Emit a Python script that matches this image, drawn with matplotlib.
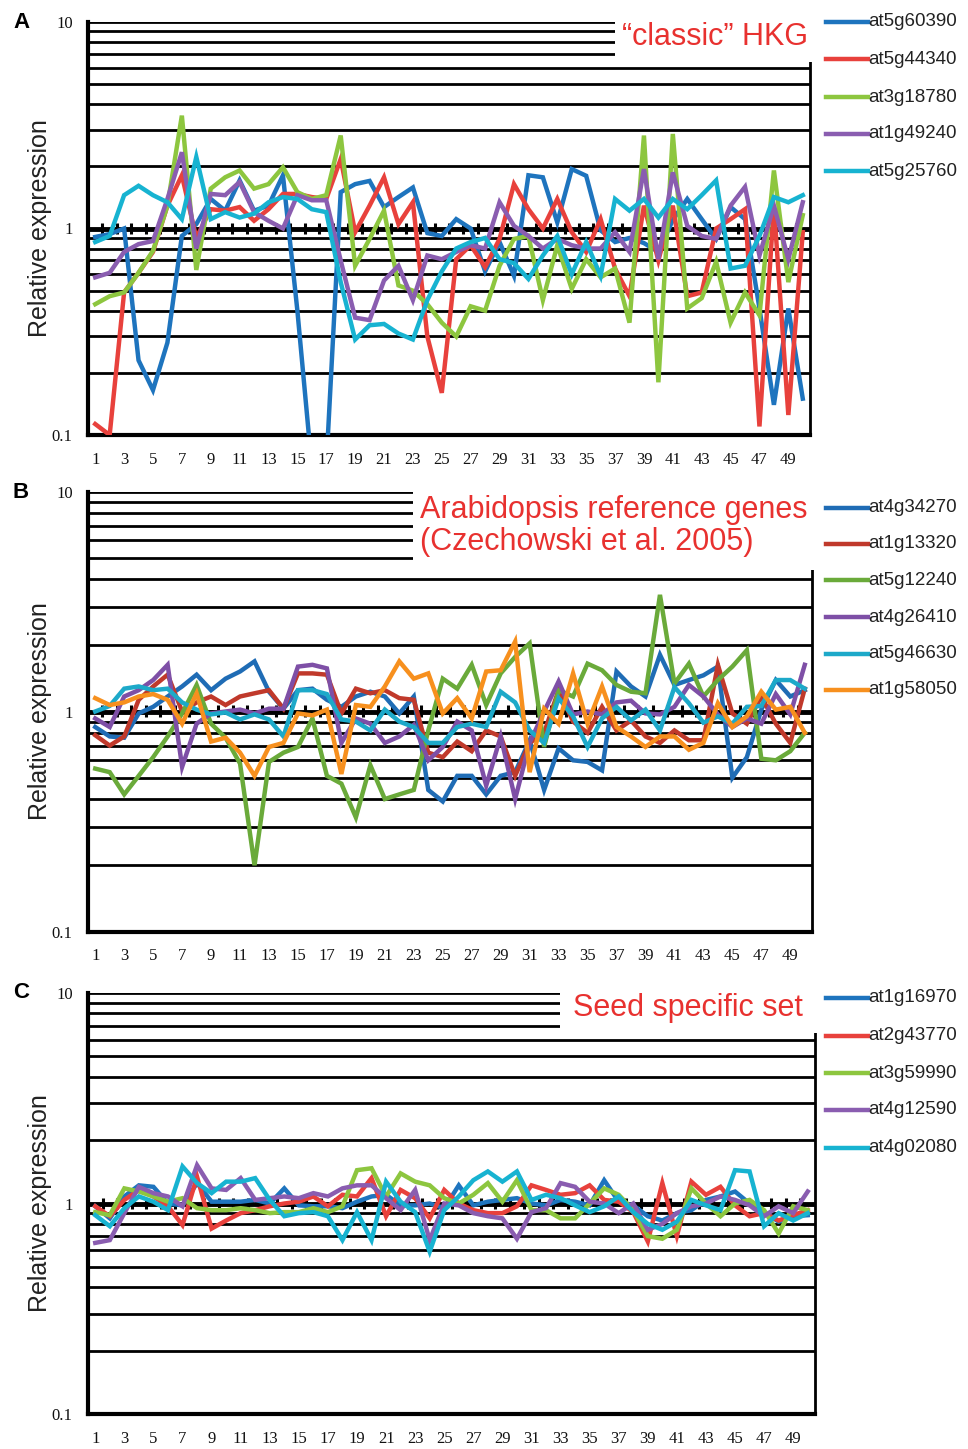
import numpy as np
import matplotlib
matplotlib.use("Agg")
import matplotlib.pyplot as plt
from matplotlib.patches import Rectangle
from matplotlib.lines import Line2D

# sample positions 1..50
samples = list(range(1, 51))
x_labels = [str(i) for i in range(1, 50, 2)]

# Panel A - "classic" HKG
genes_a = ["at5g60390", "at5g44340", "at3g18780", "at1g49240", "at5g25760"]
colors_a = ["#1E74BE", "#E8413C", "#8DC63F", "#8A5DB0", "#17B3D1"]
at5g60390 = [0.91, 0.94, 1.0, 0.23, 0.165, 0.28, 0.92, 1.05, 1.39, 1.22, 1.71, 1.22, 1.29, 1.81, 0.4,
             0.07, 0.07, 1.5, 1.64, 1.7, 1.27, 1.42, 1.58, 0.95, 0.92, 1.11, 1.0, 0.62, 0.86, 0.59,
             1.81, 1.77, 1.07, 1.94, 1.8, 0.98, 0.86, 0.9, 0.85, 0.77, 1.1, 1.39, 1.11, 0.89, 1.27,
             1.11, 0.41, 0.14, 0.41, 0.15]
at5g44340 = [0.113, 0.10, 0.49, 0.61, 0.77, 1.29, 1.81, 0.9, 1.24, 1.22, 1.27, 1.09, 1.24, 1.47, 1.47,
             1.42, 1.39, 2.17, 0.96, 1.29, 1.77, 1.05, 1.34, 0.30, 0.16, 0.71, 0.83, 0.65, 0.89, 1.64,
             1.24, 1.0, 1.39, 0.96, 0.77, 1.11, 0.64, 0.47, 1.29, 0.7, 1.29, 0.47, 0.49, 1.0, 1.11,
             1.24, 0.11, 1.29, 0.125, 0.96]
at3g18780 = [0.43, 0.47, 0.49, 0.61, 0.78, 1.29, 3.52, 0.63, 1.56, 1.77, 1.91, 1.56, 1.64, 1.98, 1.50,
             1.39, 1.45, 2.82, 0.66, 0.89, 1.22, 0.53, 0.50, 0.43, 0.35, 0.30, 0.42, 0.40, 0.66, 0.89,
             0.92, 0.45, 0.83, 0.51, 0.71, 0.58, 0.64, 0.35, 2.82, 0.18, 2.87, 0.41, 0.46, 0.69, 0.35,
             0.49, 0.38, 1.91, 0.55, 1.16]
at1g49240 = [0.58, 0.61, 0.77, 0.84, 0.87, 1.39, 2.34, 0.80, 1.47, 1.45, 1.68, 1.2, 1.09, 1.0, 1.45,
             1.37, 1.37, 0.70, 0.37, 0.36, 0.56, 0.66, 0.45, 0.74, 0.71, 0.77, 0.83, 0.80, 1.34, 1.03,
             0.92, 0.80, 0.89, 0.83, 0.80, 0.80, 0.96, 0.77, 1.94, 0.71, 1.87, 1.03, 0.92, 0.89, 1.29,
             1.59, 0.74, 1.29, 0.71, 1.34]
at5g25760 = [0.86, 0.92, 1.45, 1.61, 1.45, 1.34, 1.11, 2.22, 1.11, 1.2, 1.13, 1.18, 1.34, 1.42, 1.39,
             1.24, 1.2, 0.55, 0.29, 0.34, 0.345, 0.31, 0.29, 0.45, 0.62, 0.80, 0.86, 0.90, 0.71, 0.68,
             0.57, 0.74, 0.92, 0.60, 0.86, 0.59, 1.39, 1.22, 1.39, 1.13, 1.39, 1.24, 1.45, 1.71, 0.64,
             0.66, 0.92, 1.42, 1.34, 1.45]

# Panel B - Arabidopsis reference genes
genes_b = ["at4g34270", "at1g13320", "at5g12240", "at4g26410", "at5g46630", "at1g58050"]
colors_b = ["#1F6CB5", "#C0392B", "#6AAA3A", "#7E4FA6", "#1DA9C9", "#F7901E"]
at4g34270 = [0.85, 0.77, 0.76, 0.98, 1.05, 1.17, 1.30, 1.47, 1.25, 1.41, 1.52, 1.69, 1.23, 1.03, 1.25,
             1.27, 1.13, 1.05, 1.17, 1.23, 1.17, 0.98, 1.17, 0.44, 0.39, 0.51, 0.51, 0.42, 0.51, 0.53,
             0.74, 0.44, 0.68, 0.60, 0.59, 0.54, 1.52, 1.30, 1.17, 1.81, 1.32, 1.39, 1.46, 1.6, 0.50,
             0.62, 1.02, 1.39, 1.17, 1.25]
at1g13320 = [0.78, 0.70, 0.77, 1.13, 1.30, 1.47, 1.0, 1.1, 1.17, 1.07, 1.17, 1.21, 1.25, 1.03, 1.49,
             1.49, 1.47, 0.98, 1.27, 1.21, 1.25, 1.15, 1.13, 0.65, 0.62, 0.73, 0.66, 0.82, 0.77, 0.51,
             0.72, 0.8, 1.25, 0.9, 0.80, 1.05, 0.82, 0.91, 0.77, 0.72, 0.82, 0.74, 0.74, 1.63, 0.98,
             0.88, 1.17, 0.88, 0.72, 1.27]
at5g12240 = [0.55, 0.53, 0.42, 0.51, 0.62, 0.77, 0.98, 1.32, 0.88, 0.76, 0.58, 0.20, 0.59, 0.65, 0.69,
             0.93, 0.51, 0.47, 0.33, 0.57, 0.40, 0.42, 0.44, 0.82, 1.41, 1.27, 1.63, 1.07, 1.49, 1.77,
             2.04, 0.69, 1.25, 1.17, 1.65, 1.54, 1.32, 1.23, 1.21, 3.39, 1.34, 1.65, 1.17, 1.39, 1.6,
             1.9, 0.61, 0.60, 0.66, 0.80]
at4g26410 = [0.93, 0.85, 1.17, 1.25, 1.39, 1.63, 0.56, 0.88, 0.98, 1.0, 1.02, 0.98, 1.03, 1.03, 1.6,
             1.63, 1.57, 0.72, 0.93, 0.88, 0.72, 0.77, 0.87, 0.60, 0.69, 0.90, 0.82, 0.46, 0.77, 0.40,
             0.72, 1.0, 1.37, 0.97, 1.0, 0.97, 1.1, 1.12, 0.98, 0.97, 1.05, 1.32, 1.17, 0.97, 0.85,
             0.93, 0.88, 1.2, 0.97, 1.63]
at5g46630 = [1.0, 1.06, 1.27, 1.3, 1.25, 1.27, 1.1, 1.02, 0.97, 0.99, 0.92, 0.97, 0.92, 0.77, 1.25,
             1.25, 1.2, 0.92, 0.90, 0.82, 1.02, 0.9, 0.85, 0.72, 0.72, 0.85, 0.88, 0.85, 1.23, 1.1,
             0.82, 0.72, 1.15, 0.95, 0.69, 0.93, 1.05, 0.91, 1.02, 0.82, 1.29, 1.09, 0.89, 0.95, 0.88,
             1.05, 1.06, 1.39, 1.39, 1.27]
at1g58050 = [1.15, 1.07, 1.1, 1.17, 1.2, 1.13, 0.88, 1.21, 0.73, 0.76, 0.65, 0.51, 0.69, 0.72, 0.98,
             0.96, 1.02, 0.52, 1.07, 1.05, 1.30, 1.69, 1.41, 1.49, 0.98, 1.15, 0.93, 1.52, 1.54, 2.08,
             0.53, 1.03, 0.88, 1.49, 0.88, 1.3, 0.85, 0.77, 0.69, 0.77, 0.77, 0.67, 0.72, 1.09, 0.85,
             0.95, 1.23, 1.02, 1.05, 0.8]

# Panel C - seed specific set
genes_c = ["at1g16970", "at2g43770", "at3g59990", "at4g12590", "at4g02080"]
colors_c = ["#1E74BE", "#E8413C", "#8DC63F", "#8A5DB0", "#17B3D1"]
at1g16970 = [0.97, 0.85, 1.08, 1.22, 1.20, 1.0, 0.98, 1.25, 1.02, 1.02, 1.02, 1.04, 1.0, 1.18, 0.98,
             0.97, 0.97, 0.95, 1.02, 1.08, 1.10, 0.98, 0.98, 1.0, 0.95, 1.22, 0.98, 1.02, 1.04, 1.06,
             1.0, 0.98, 1.04, 1.02, 0.98, 1.29, 1.02, 0.98, 0.87, 0.83, 0.90, 0.93, 1.04, 1.08, 1.14,
             1.0, 0.91, 0.82, 0.87, 0.88]
at2g43770 = [0.97, 0.87, 1.04, 1.16, 1.08, 0.97, 0.79, 1.34, 0.76, 0.83, 0.90, 0.93, 0.97, 1.0, 1.02,
             1.08, 0.97, 1.10, 1.08, 1.32, 0.87, 1.16, 1.06, 0.85, 1.16, 1.0, 0.93, 0.90, 0.90, 0.97,
             1.22, 1.16, 1.10, 1.12, 1.22, 1.04, 1.02, 0.91, 0.66, 1.25, 0.70, 1.27, 1.10, 1.20, 0.98,
             0.87, 0.90, 0.83, 0.88, 0.93]
at3g59990 = [0.91, 0.88, 1.18, 1.14, 1.08, 1.02, 1.06, 0.95, 0.93, 0.93, 0.95, 0.93, 0.90, 0.91, 0.91,
             0.95, 0.91, 0.97, 1.44, 1.47, 1.08, 1.39, 1.27, 1.22, 1.06, 1.0, 1.10, 1.25, 1.02, 1.29,
             0.93, 0.93, 0.85, 0.85, 1.0, 1.18, 1.10, 0.93, 0.70, 0.68, 0.75, 1.18, 1.0, 0.87, 1.0,
             1.04, 0.93, 0.72, 0.97, 0.93]
at4g12590 = [0.65, 0.67, 0.90, 1.20, 1.12, 1.08, 0.97, 1.52, 1.18, 1.16, 1.32, 1.04, 1.06, 1.08, 1.06,
             1.12, 1.08, 1.18, 1.22, 1.22, 1.06, 0.93, 1.16, 0.67, 1.0, 0.98, 0.90, 0.87, 0.85, 0.68,
             0.91, 0.95, 1.25, 1.20, 1.02, 1.0, 0.90, 1.0, 0.75, 0.80, 0.90, 0.97, 1.0, 1.08, 1.04,
             0.98, 0.87, 0.97, 0.90, 1.14]
at4g02080 = [0.88, 0.78, 0.95, 1.08, 1.02, 0.93, 1.50, 1.25, 1.12, 1.27, 1.27, 1.32, 1.04, 0.87, 0.90,
             0.91, 0.87, 0.67, 0.91, 0.67, 1.27, 1.02, 0.91, 0.59, 0.93, 1.08, 1.29, 1.42, 1.27, 1.42,
             1.04, 1.10, 1.06, 0.98, 0.91, 0.97, 1.08, 0.91, 0.80, 0.75, 0.82, 1.04, 0.98, 0.93, 1.44,
             1.42, 0.78, 0.90, 0.83, 0.90]

panels = [
    dict(letter="A", series=[at5g60390, at5g44340, at3g18780, at1g49240, at5g25760],
         genes=genes_a, colors=colors_a, title="\u201cclassic\u201d HKG"),
    dict(letter="B", series=[at4g34270, at1g13320, at5g12240, at4g26410, at5g46630, at1g58050],
         genes=genes_b, colors=colors_b,
         title="Arabidopsis reference genes\n(Czechowski et al. 2005)"),
    dict(letter="C", series=[at1g16970, at2g43770, at3g59990, at4g12590, at4g02080],
         genes=genes_c, colors=colors_c, title="Seed specific set"),
]

W, H = 968, 1449
fig = plt.figure(figsize=(W / 100, H / 100), dpi=100)
fig.patch.set_facecolor("white")

def fx(px):
    return px / W

def fy(py):
    return 1 - py / H

# pixel layout of each panel: left, right, top(10), bottom(0.1)
layout = [
    dict(l=88, r=810, t=22, b=435, box=(615, 10, 830, 62), tx=622, ty=37,
         leg_y=[22, 59, 97, 134, 171], letter_y=22),
    dict(l=88, r=812, t=491.5, b=931.5, box=(413, 484, 830, 570), tx=420, ty=526,
         leg_y=[508, 544, 580, 617, 654, 690], letter_y=492),
    dict(l=88, r=815, t=993, b=1414, box=(560, 985, 830, 1033), tx=573, ty=1008,
         leg_y=[998, 1036, 1073, 1110, 1148], letter_y=993),
]

grid_vals = [v * 10 ** e for e in (-1, 0) for v in range(1, 10)] + [10]
tick_font = "Liberation Serif"
sans = "Liberation Sans"

for p, lay in zip(panels, layout):
    ax = fig.add_axes([fx(lay["l"]), fy(lay["b"]), fx(lay["r"] - lay["l"]),
                       (lay["b"] - lay["t"]) / H])
    ax.set_yscale("log")
    ax.set_ylim(0.1, 10)
    ax.set_xlim(0.5, 50.5)

    for g in grid_vals:
        ax.axhline(g, color="black", lw=2.0, zorder=1)
    # horizontal axis crossing at 1 with cross tick marks
    ax.axhline(1, color="black", lw=3.5, zorder=1.5)
    ax.vlines(np.arange(1.5, 50.5, 1), 0.94, 1.065, color="black", lw=2.2, zorder=1.5)

    for vals, col in zip(p["series"], p["colors"]):
        ax.plot(samples, vals, color=col, lw=3.2, zorder=3, solid_joinstyle="miter")

    ax.set_yticks([0.1, 1, 10])
    ax.set_yticklabels(["0.1", "1", "10"])
    ax.yaxis.set_minor_locator(matplotlib.ticker.NullLocator())
    ax.set_xticks(range(1, 50, 2))
    ax.set_xticklabels(x_labels)
    ax.tick_params(axis="both", length=0, labelsize=12)
    ax.tick_params(axis="x", pad=12)
    ax.tick_params(axis="y", pad=11)
    for lab in ax.get_xticklabels() + ax.get_yticklabels():
        lab.set_fontfamily(tick_font)
        lab.set_color("#111111")

    ax.set_ylabel("Relative expression", fontsize=18, family=sans, color="#222222")
    ax.yaxis.set_label_coords(-0.05, 0.5)

    ax.spines["top"].set_visible(False)
    ax.spines["left"].set_linewidth(3)
    ax.spines["bottom"].set_linewidth(3)
    ax.spines["right"].set_linewidth(2)
    for s in ax.spines.values():
        s.set_color("black")

    # white box behind the red title covers the top gridlines
    x0, y0, x1, y1 = lay["box"]
    fig.add_artist(Rectangle((fx(x0), fy(y1)), fx(x1 - x0), (y1 - y0) / H,
                             transform=fig.transFigure, facecolor="white",
                             edgecolor="none", zorder=5))
    fig.text(fx(lay["tx"]), fy(lay["ty"]), p["title"], color="#E8312F", fontsize=22,
             family=sans, ha="left", va="center", zorder=6, linespacing=1.05)

    fig.text(fx(13), fy(lay["letter_y"]), p["letter"], fontsize=16, fontweight="bold",
             family=sans, ha="left", va="center")

    # legend entries
    for gname, col, ly in zip(p["genes"], p["colors"], lay["leg_y"]):
        fig.add_artist(Line2D([fx(826), fx(868)], [fy(ly), fy(ly)], color=col, lw=3.2,
                              transform=fig.transFigure, zorder=7))
        fig.text(fx(868), fy(ly), gname, fontsize=13.5, family=sans, color="#222222",
                 ha="left", va="center", zorder=7)

fig.savefig("out.png", dpi=100, facecolor="white")
